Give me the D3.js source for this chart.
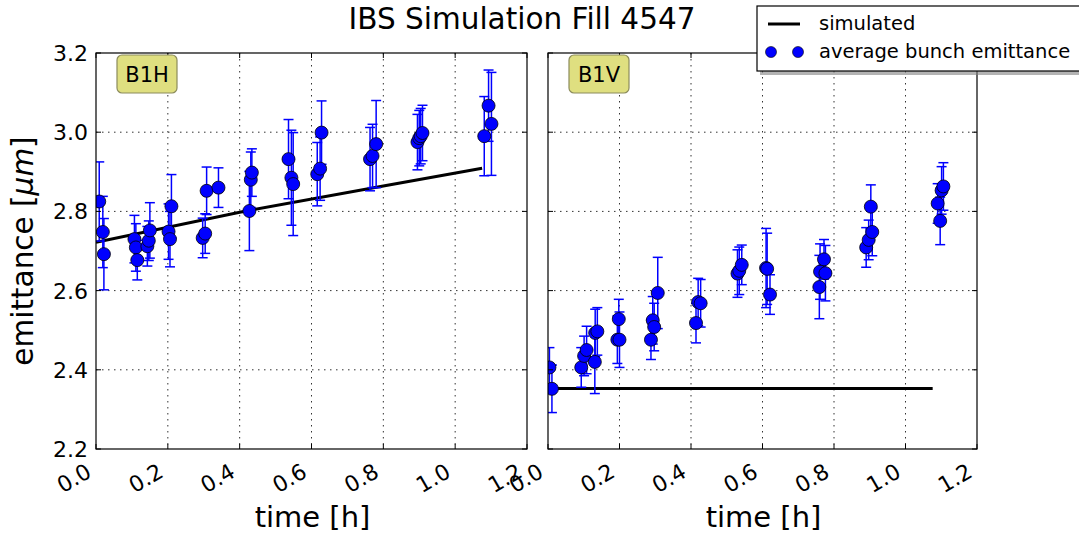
<!DOCTYPE html>
<html>
<head>
<meta charset="utf-8">
<script src="https://cdn.jsdelivr.net/npm/d3@7"></script>
<style>
  html, body { margin: 0; padding: 0; background: #fff; }
  svg { display: block; font-family: "DejaVu Sans", sans-serif; }
</style>
</head>
<body>
<svg id="chart" width="1079" height="535"></svg>
<script>
// ---------------- data ----------------
const title = "IBS Simulation Fill 4547";
const xTicks = [0.0, 0.2, 0.4, 0.6, 0.8, 1.0, 1.2];
const yTicks = [2.2, 2.4, 2.6, 2.8, 3.0, 3.2];

// B1H measured
const b1hTime = [0.009, 0.019, 0.022, 0.107, 0.111, 0.115, 0.143, 0.147, 0.150,
  0.202, 0.206, 0.210, 0.297, 0.304, 0.308, 0.341, 0.427, 0.431, 0.434,
  0.536, 0.544, 0.549, 0.616, 0.624, 0.628, 0.763, 0.770, 0.780,
  0.895, 0.900, 0.904, 0.909, 1.081, 1.093, 1.101];
const b1hEmit = [2.825, 2.748, 2.692, 2.730, 2.709, 2.677, 2.712, 2.726, 2.752,
  2.749, 2.730, 2.813, 2.733, 2.744, 2.852, 2.860, 2.801, 2.880, 2.898,
  2.932, 2.885, 2.869, 2.894, 2.908, 2.999, 2.932, 2.940, 2.970,
  2.975, 2.985, 2.990, 2.998, 2.990, 3.067, 3.021];
const b1hErr = [0.10, 0.09, 0.09, 0.06, 0.06, 0.05, 0.05, 0.05, 0.07,
  0.07, 0.07, 0.08, 0.05, 0.05, 0.06, 0.05, 0.10, 0.07, 0.06,
  0.10, 0.12, 0.13, 0.08, 0.08, 0.08, 0.08, 0.08, 0.11,
  0.07, 0.07, 0.07, 0.07, 0.10, 0.09, 0.13];
// B1H simulated
const b1hSimTime = [0.0, 0.4, 0.8, 1.075];
const b1hSimEmit = [2.722, 2.798, 2.864, 2.909];

// B1V measured
const b1vTime = [0.004, 0.011, 0.093, 0.101, 0.108, 0.131, 0.132, 0.138,
  0.194, 0.200, 0.198, 0.288, 0.293, 0.297, 0.307, 0.414, 0.420, 0.427,
  0.530, 0.535, 0.542, 0.610, 0.613, 0.621, 0.759, 0.761, 0.772, 0.776,
  0.890, 0.897, 0.903, 0.907, 1.090, 1.097, 1.101, 1.106];
const b1vEmit = [2.406, 2.352, 2.406, 2.435, 2.450, 2.420, 2.493, 2.497,
  2.476, 2.476, 2.528, 2.476, 2.525, 2.508, 2.594, 2.518, 2.571, 2.568,
  2.643, 2.650, 2.665, 2.657, 2.655, 2.590, 2.609, 2.648, 2.679, 2.644,
  2.709, 2.728, 2.812, 2.748, 2.820, 2.776, 2.853, 2.863];
const b1vErr = [0.05, 0.06, 0.05, 0.05, 0.06, 0.08, 0.06, 0.06,
  0.06, 0.07, 0.05, 0.05, 0.06, 0.06, 0.09, 0.05, 0.06, 0.06,
  0.06, 0.06, 0.05, 0.10, 0.09, 0.05, 0.08, 0.07, 0.05, 0.07,
  0.05, 0.05, 0.055, 0.06, 0.05, 0.06, 0.06, 0.06];
// B1V simulated
const b1vSimTime = [0.0, 0.5, 1.076];
const b1vSimEmit = [2.353, 2.353, 2.353];

const panels = [
  { name: "B1H", left: 96, right: 527, time: b1hTime, emit: b1hEmit, err: b1hErr,
    simT: b1hSimTime, simE: b1hSimEmit, yLabels: true },
  { name: "B1V", left: 548, right: 977, time: b1vTime, emit: b1vEmit, err: b1vErr,
    simT: b1vSimTime, simE: b1vSimEmit, yLabels: false }
];

// ---------------- drawing ----------------
const svg = d3.select("#chart");
const plotTop = 53, plotBottom = 449;
const y = d3.scaleLinear().domain([2.2, 3.2]).range([plotBottom, plotTop]);
const fmt = d3.format(".1f");
const blue = "#0000ff";

svg.append("text").attr("x", 522).attr("y", 29).attr("text-anchor", "middle")
  .attr("font-size", 29.5).attr("fill", "#000").text(title);

const ylab = svg.append("text").attr("transform", "translate(33,251) rotate(-90)")
  .attr("text-anchor", "middle").attr("font-size", 29.5).attr("fill", "#000");
ylab.append("tspan").text("emittance [");
ylab.append("tspan").attr("font-style", "italic").text("μm");
ylab.append("tspan").text("]");

panels.forEach((p, i) => {
  const x = d3.scaleLinear().domain([0, 1.2]).range([p.left, p.right]);
  const g = svg.append("g");
  const clipId = "clip" + i;
  svg.append("clipPath").attr("id", clipId).append("rect")
    .attr("x", p.left).attr("y", plotTop).attr("width", p.right - p.left).attr("height", plotBottom - plotTop);

  // grid
  const grid = g.append("g").attr("stroke", "#000").attr("stroke-width", 1)
    .attr("stroke-dasharray", "1.5,4.5").attr("opacity", 0.8);
  xTicks.slice(1, -1).forEach(t => grid.append("line")
    .attr("x1", x(t)).attr("x2", x(t)).attr("y1", plotTop).attr("y2", plotBottom));
  yTicks.slice(1, -1).forEach(v => grid.append("line")
    .attr("x1", p.left).attr("x2", p.right).attr("y1", y(v)).attr("y2", y(v)));

  const plot = g.append("g").attr("clip-path", `url(#${clipId})`);
  // simulated line
  const line = d3.line().x((d, j) => x(p.simT[j])).y(d => y(d));
  plot.append("path").datum(p.simE).attr("d", line)
    .attr("fill", "none").attr("stroke", "#000").attr("stroke-width", 3);

  // error bars
  const idx = d3.range(p.time.length);
  const eb = plot.append("g").attr("stroke", blue).attr("stroke-width", 1.5);
  idx.forEach(j => {
    const cx = x(p.time[j]);
    const y1 = y(p.emit[j] - p.err[j]), y2 = y(p.emit[j] + p.err[j]);
    eb.append("line").attr("x1", cx).attr("x2", cx).attr("y1", y1).attr("y2", y2);
    eb.append("line").attr("x1", cx - 5).attr("x2", cx + 5).attr("y1", y1).attr("y2", y1);
    eb.append("line").attr("x1", cx - 5).attr("x2", cx + 5).attr("y1", y2).attr("y2", y2);
  });
  // points
  plot.append("g").selectAll("circle").data(idx).join("circle")
    .attr("cx", j => x(p.time[j])).attr("cy", j => y(p.emit[j])).attr("r", 6.5)
    .attr("fill", blue).attr("stroke", "#000").attr("stroke-width", 0.8);

  // ticks (inward, all sides)
  const tk = g.append("g").attr("stroke", "#000").attr("stroke-width", 1);
  xTicks.forEach(t => {
    tk.append("line").attr("x1", x(t)).attr("x2", x(t)).attr("y1", plotBottom).attr("y2", plotBottom - 5);
    tk.append("line").attr("x1", x(t)).attr("x2", x(t)).attr("y1", plotTop).attr("y2", plotTop + 5);
  });
  yTicks.forEach(v => {
    tk.append("line").attr("x1", p.left).attr("x2", p.left + 5).attr("y1", y(v)).attr("y2", y(v));
    tk.append("line").attr("x1", p.right).attr("x2", p.right - 5).attr("y1", y(v)).attr("y2", y(v));
  });
  // frame
  g.append("rect").attr("x", p.left).attr("y", plotTop).attr("width", p.right - p.left)
    .attr("height", plotBottom - plotTop).attr("fill", "none").attr("stroke", "#000").attr("stroke-width", 1.2);

  // x tick labels
  xTicks.forEach(t => {
    g.append("text").attr("transform", `translate(${x(t) - 3},${plotBottom + 27}) rotate(-30)`)
      .attr("text-anchor", "end").attr("font-size", 22).attr("fill", "#000").text(fmt(t));
  });
  if (p.yLabels) {
    yTicks.forEach(v => g.append("text").attr("x", p.left - 8).attr("y", y(v))
      .attr("dy", "0.36em").attr("text-anchor", "end").attr("font-size", 22)
      .attr("fill", "#000").text(fmt(v)));
  }
  // x axis label
  g.append("text").attr("x", (p.left + p.right) / 2 + 1).attr("y", 527).attr("text-anchor", "middle")
    .attr("font-size", 29).attr("fill", "#000").text("time [h]");

  // panel label box
  const bx = p.left + 21;
  g.append("rect").attr("x", bx).attr("y", 55).attr("width", 60).attr("height", 38)
    .attr("rx", 5).attr("fill", "rgb(223,223,128)").attr("stroke", "#8c8c5c").attr("stroke-width", 1.2);
  g.append("text").attr("x", bx + 30).attr("y", 82).attr("text-anchor", "middle")
    .attr("font-size", 21).attr("fill", "#000").text(p.name);
});

// legend
const lg = svg.append("g");
lg.append("rect").attr("x", 760).attr("y", 10).attr("width", 340).attr("height", 65)
  .attr("fill", "#808080").attr("opacity", 0.6);
lg.append("rect").attr("x", 757).attr("y", 6).attr("width", 340).attr("height", 65)
  .attr("fill", "#fff").attr("stroke", "#000").attr("stroke-width", 1.2);
lg.append("line").attr("x1", 768).attr("x2", 800).attr("y1", 24).attr("y2", 24)
  .attr("stroke", "#000").attr("stroke-width", 3);
lg.append("text").attr("x", 819).attr("y", 30).attr("font-size", 19.5).attr("fill", "#000").text("simulated");
[771, 798].forEach(cx => lg.append("circle").attr("cx", cx).attr("cy", 52).attr("r", 5.5)
  .attr("fill", blue).attr("stroke", "#000").attr("stroke-width", 0.6));
lg.append("text").attr("x", 819).attr("y", 58).attr("font-size", 19.5).attr("fill", "#000")
  .text("average bunch emittance");
</script>
</body>
</html>
